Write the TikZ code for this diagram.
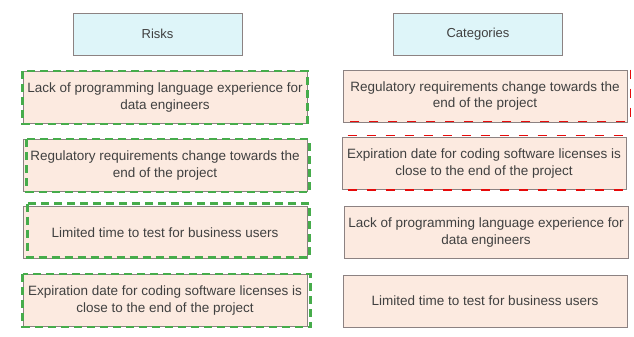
\documentclass[tikz,border=0pt]{standalone}
\usepackage{fontspec}
\setmainfont{Liberation Sans}
\usetikzlibrary{calc}
\definecolor{boxpeach}{RGB}{252,234,224}
\definecolor{headcyan}{RGB}{222,245,249}
\definecolor{edgegray}{RGB}{140,130,130}
\definecolor{markgreen}{RGB}{70,172,75}
\definecolor{markred}{RGB}{230,10,10}
\definecolor{textgray}{RGB}{64,64,64}

\tikzset{
  header/.style={draw=edgegray, line width=0.9pt, fill=headcyan, minimum width=169pt, minimum height=42pt,
    text=textgray, font=\fontsize{13}{15}\selectfont},
  item/.style={draw=edgegray, line width=0.9pt, fill=boxpeach, minimum width=284pt, minimum height=52pt,
    align=center, inner sep=0pt, text=textgray, font=\fontsize{13.5}{16.5}\selectfont},
  greenmark/.style={draw=markgreen, line width=2.2pt, dash pattern=on 8pt off 5pt},
  redmark/.style={draw=markred, line width=1.8pt, dash pattern=on 9pt off 10pt},
}

\begin{document}
\begin{tikzpicture}[x=1pt, y=-1pt]
  \useasboundingbox (0,0) rectangle (634,337);
  % column headers
  \node[header] (risks) at (157.5,34) {Risks};
  \node[header] (cats) at (478,34) {Categories};
  % risks column
  \node[item] (l1) at (165,97.5) {Lack of programming language experience for\\data engineers};
  \node[item] (l2) at (165,165.5) {Regulatory requirements change towards the\\end of the project};
  \node[item] (l3) at (165,232.5) {Limited time to test for business users};
  \node[item] (l4) at (165,300.5) {Expiration date for coding software licenses is\\close to the end of the project};
  % categories column
  \node[item] (r1) at (485,96) {Regulatory requirements change towards the\\end of the project};
  \node[item] (r2) at (484,163.5) {Expiration date for coding software licenses is\\close to the end of the project};
  \node[item] (r3) at (486,232.5) {Lack of programming language experience for\\data engineers};
  \node[item] (r4) at (485,301) {Limited time to test for business users};
  % green marks
  \draw[greenmark] (l1.north west) rectangle (l1.south east);
  \draw[greenmark] ($(l2.north west)+(4,0)$) rectangle ($(l2.south east)+(2,0)$);
  \draw[greenmark] ($(l3.north west)+(5,-2.5)$) rectangle ($(l3.south east)+(2,-1.5)$);
  \draw[greenmark] ($(l4.north west)+(0,0)$) rectangle ($(l4.south east)+(3,0)$);
  % red marks
  \draw[redmark] ($(r1.north east)+(3,0)$) -- ($(r1.south east)+(3,-1)$) -- ($(r1.south west)+(4,-1)$);
  \draw[redmark] ($(r2.north west)+(6,-1.5)$) -- ($(r2.north east)+(-3,-1.5)$);
  \draw[redmark] ($(r2.south west)+(6,0)$) -- ($(r2.south east)+(-2,0)$);
\end{tikzpicture}
\end{document}
